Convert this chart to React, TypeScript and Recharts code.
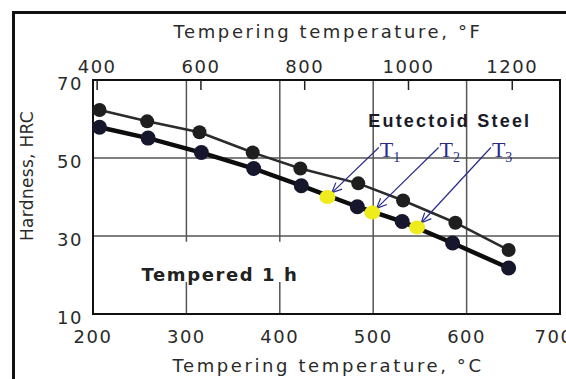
import {
  ComposedChart,
  Line,
  XAxis,
  YAxis,
  CartesianGrid,
  ReferenceArea,
  ReferenceLine,
  ReferenceDot,
} from 'recharts';

// Tempering temperature (°C) and hardness (HRC)
const upperTemps = [207, 258, 314, 371, 422, 484, 532, 588, 645];
const upperHardness = [62.3, 59.4, 56.6, 51.4, 47.3, 43.5, 39.1, 33.4, 26.4];
const lowerTemps = [207, 259, 316, 372, 423, 483, 531, 585, 645];
const lowerHardness = [57.9, 55.1, 51.4, 47.3, 42.9, 37.5, 33.7, 28.2, 21.8];

// highlighted tempering points T1..T3
const markNames = ['1', '2', '3'];
const markTemps = [451, 499, 547];
const markHardness = [40.0, 36.0, 32.2];
// where the T labels sit (arrow tails)
const markLabelTemps = [506, 570, 626];
const markLabelHardness = [52.7, 52.7, 52.7];

const celsiusTicks = [200, 300, 400, 500, 600, 700];
const fahrenheitTicks = [400, 600, 800, 1000, 1200];
const hardnessTicks = [10, 30, 50, 70];

const upperData = upperTemps.map((t, i) => ({ temp: t, hrc: upperHardness[i] }));
const lowerData = lowerTemps.map((t, i) => ({ temp: t, hrc: lowerHardness[i] }));
const markData = markTemps.map((t, i) => ({ temp: t, hrc: markHardness[i] }));
// empty series so the °F axis gets registered and drawn
const fahrenheitAnchor = fahrenheitTicks.map((f) => ({ tempF: f, hrc: null }));

const axisFont = {
  fontFamily: '"DejaVu Sans", sans-serif',
  fontSize: 18,
  fill: '#2a2a2a',
  letterSpacing: 1.5,
};
const titleFont = { ...axisFont, letterSpacing: 2.6 };
const navy = '#2a2a8a';

const TopTick = ({ x, y, payload }: any) => (
  <text x={x} y={y} textAnchor="middle" style={axisFont}>
    {payload.value}
  </text>
);

const BottomTick = ({ x, y, payload }: any) => (
  <text x={x} y={y + 29} textAnchor="middle" style={axisFont}>
    {payload.value}
  </text>
);

const LeftTick = ({ x, y, payload }: any) => (
  <text x={x} y={y + 10} textAnchor="end" style={axisFont}>
    {payload.value}
  </text>
);

// arrow from label to the marked point, stopped short of the marker
const Arrow = ({ x1, y1, x2, y2 }: any) => {
  const dx = x2 - x1;
  const dy = y2 - y1;
  const len = Math.sqrt(dx * dx + dy * dy);
  const ux = dx / len;
  const uy = dy / len;
  const ex = x2 - ux * 6;
  const ey = y2 - uy * 6;
  const head = 11;
  const a = (24 * Math.PI) / 180;
  const h1x = ex - head * (ux * Math.cos(a) - uy * Math.sin(a));
  const h1y = ey - head * (uy * Math.cos(a) + ux * Math.sin(a));
  const h2x = ex - head * (ux * Math.cos(a) + uy * Math.sin(a));
  const h2y = ey - head * (uy * Math.cos(a) - ux * Math.sin(a));
  return (
    <g stroke={navy} strokeWidth={1.2} fill="none">
      <line x1={x1} y1={y1} x2={ex} y2={ey} />
      <polyline points={`${h1x},${h1y} ${ex},${ey} ${h2x},${h2y}`} />
    </g>
  );
};

const YellowDot = ({ cx, cy }: any) => (
  <ellipse cx={cx} cy={cy} rx={8} ry={7} fill="#eeec1c" />
);

export default function App() {
  return (
    <div
      style={{
        position: 'absolute',
        left: 0,
        top: 0,
        width: 566,
        height: 379,
        background: '#fff',
        overflow: 'hidden',
      }}
    >
      <div
        style={{
          position: 'absolute',
          left: 12,
          top: 11,
          width: 600,
          height: 400,
          borderLeft: '3px solid #111',
          borderTop: '3px solid #111',
        }}
      />
      <div style={{ position: 'absolute', left: 0, top: 0 }}>
        <ComposedChart width={566} height={379} margin={{ top: 22, right: 6, bottom: 0, left: 0 }}>
          <CartesianGrid xAxisId="c" stroke="#555" strokeWidth={1.5} />
          <XAxis
            xAxisId="c"
            dataKey="temp"
            type="number"
            domain={[200, 700]}
            ticks={celsiusTicks}
            allowDataOverflow
            height={65}
            axisLine={false}
            tickLine={false}
            tickSize={0}
            tickMargin={0}
            tick={<BottomTick />}
            label={{
              content: () => (
                <text x={328} y={372} textAnchor="middle" style={titleFont}>
                  Tempering temperature, °C
                </text>
              ),
            }}
          />
          <XAxis
            xAxisId="f"
            dataKey="tempF"
            orientation="top"
            type="number"
            domain={[392, 1292]}
            ticks={fahrenheitTicks}
            allowDataOverflow
            height={58}
            axisLine={false}
            tickLine={{ stroke: '#222', strokeWidth: 1.5 }}
            tickSize={-10}
            tickMargin={17}
            tick={<TopTick />}
            label={{
              content: () => (
                <text x={328} y={38} textAnchor="middle" style={titleFont}>
                  Tempering temperature, °F
                </text>
              ),
            }}
          />
          <YAxis
            type="number"
            domain={[10, 70]}
            ticks={hardnessTicks}
            allowDataOverflow
            width={93}
            axisLine={false}
            tickLine={false}
            tickSize={0}
            tickMargin={10}
            tick={<LeftTick />}
            label={{
              content: () => (
                <text
                  x={33}
                  y={176}
                  transform="rotate(-90 33 176)"
                  textAnchor="middle"
                  style={{ ...axisFont, fontSize: 17, letterSpacing: 0.3 }}
                >
                  Hardness, HRC
                </text>
              ),
            }}
          />

          <ReferenceArea
            xAxisId="c"
            x1={252}
            x2={425}
            y1={18.2}
            y2={28.5}
            fill="#fff"
            fillOpacity={1}
            stroke="none"
            label={{
              content: () => (
                <text
                  x={220}
                  y={281}
                  textAnchor="middle"
                  style={{ ...axisFont, fontWeight: 'bold', fill: '#222', letterSpacing: 1.6 }}
                >
                  Tempered 1 h
                </text>
              ),
            }}
          />
          <ReferenceArea
            xAxisId="c"
            x1={200}
            x2={700}
            y1={10}
            y2={70}
            fill="none"
            stroke="#111"
            strokeWidth={2}
          />

          <Line
            xAxisId="f"
            data={fahrenheitAnchor}
            dataKey="hrc"
            stroke="none"
            dot={false}
            activeDot={false}
            legendType="none"
            isAnimationActive={false}
          />
          <Line
            xAxisId="c"
            data={upperData}
            dataKey="hrc"
            type="linear"
            stroke="#2b2b2b"
            strokeWidth={2.5}
            dot={{ r: 7, fill: '#1f1f1f', stroke: 'none' }}
            isAnimationActive={false}
          />
          <Line
            xAxisId="c"
            data={lowerData}
            dataKey="hrc"
            type="linear"
            stroke="#0d0d0d"
            strokeWidth={4.5}
            dot={{ r: 7.5, fill: '#16162c', stroke: 'none' }}
            isAnimationActive={false}
          />
          <Line
            xAxisId="c"
            data={markData}
            dataKey="hrc"
            stroke="none"
            dot={<YellowDot />}
            isAnimationActive={false}
          />

          {markTemps.map((t, i) => (
            <ReferenceLine
              key={`arrow-${i}`}
              xAxisId="c"
              segment={[
                { x: markLabelTemps[i], y: markLabelHardness[i] },
                { x: t, y: markHardness[i] },
              ]}
              shape={<Arrow />}
            />
          ))}
          {markTemps.map((_, i) => (
            <ReferenceDot
              key={`label-${i}`}
              xAxisId="c"
              x={markLabelTemps[i]}
              y={markLabelHardness[i]}
              r={0}
              fill="none"
              stroke="none"
              label={{
                content: ({ viewBox }: any) => (
                  <text
                    x={viewBox.x + 1}
                    y={viewBox.y + 10}
                    style={{ fontFamily: '"Liberation Serif", serif', fontSize: 22, fill: navy }}
                  >
                    T
                    <tspan fontSize={14} dy={5}>
                      {markNames[i]}
                    </tspan>
                  </text>
                ),
              }}
            />
          ))}
          <ReferenceDot
            xAxisId="c"
            x={582}
            y={57.9}
            r={0}
            fill="none"
            stroke="none"
            label={{
              content: ({ viewBox }: any) => (
                <text
                  x={viewBox.x}
                  y={viewBox.y}
                  textAnchor="middle"
                  style={{
                    fontFamily: '"Liberation Sans", Arial, sans-serif',
                    fontWeight: 'bold',
                    fontSize: 18,
                    fill: '#1a1a28',
                    letterSpacing: 2.2,
                  }}
                >
                  Eutectoid Steel
                </text>
              ),
            }}
          />
        </ComposedChart>
      </div>
    </div>
  );
}
